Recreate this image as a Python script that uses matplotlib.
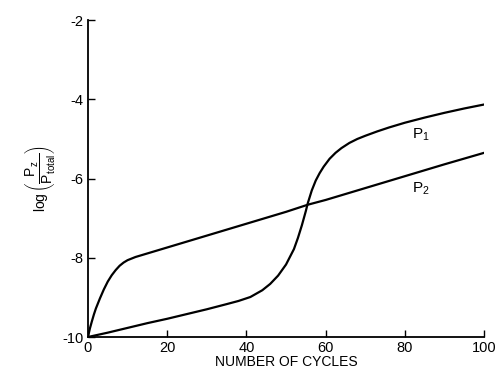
import numpy as np
import matplotlib.pyplot as plt

plt.rcParams['font.family'] = ['Liberation Sans', 'DejaVu Sans']
plt.rcParams['mathtext.fontset'] = 'custom'
plt.rcParams['mathtext.rm'] = 'Liberation Sans'
plt.rcParams['mathtext.it'] = 'Liberation Sans'
plt.rcParams['mathtext.default'] = 'regular'
plt.rcParams['axes.unicode_minus'] = False

# P1: slow rise, sharp sigmoid jump near 55 cycles
p1_x = [0, 5, 10, 15, 20, 25, 30, 35, 38, 41, 44, 46, 48, 50, 52, 53, 54, 55, 55.5,
        56.5, 57.5, 58.5, 59.5, 61, 62.5, 64, 66, 68, 70, 73, 76, 80, 85, 90, 95, 100]
p1_y = [-10, -9.89, -9.77, -9.65, -9.54, -9.42, -9.3, -9.17, -9.09, -8.99, -8.82, -8.66,
        -8.45, -8.17, -7.78, -7.5, -7.18, -6.82, -6.62,
        -6.3, -6.05, -5.86, -5.7, -5.5, -5.35, -5.23, -5.1, -5.0, -4.92, -4.81,
        -4.71, -4.59, -4.46, -4.34, -4.23, -4.13]

# P2: fast initial rise, then linear
p2_x = [0, 0.5, 1, 1.5, 2, 3, 4, 5, 6, 7, 8, 9, 10, 11, 12, 20, 30, 40, 50, 55.5, 60, 70, 80, 90, 100]
p2_y = [-10, -9.78, -9.6, -9.43, -9.28, -9.03, -8.8, -8.6, -8.44, -8.31, -8.2, -8.12,
        -8.06, -8.02, -7.98, -7.74, -7.44, -7.14, -6.84, -6.66, -6.54, -6.24,
        -5.94, -5.64, -5.35]

x_ticks = [0, 20, 40, 60, 80, 100]
y_ticks = [-10, -8, -6, -4, -2]

fig = plt.figure(figsize=(4.97, 3.73), dpi=100)
ax = fig.add_axes([0.177, 0.0965, 0.797, 0.8495])

ax.plot(p1_x, p1_y, color='black', lw=1.6, solid_capstyle='round')
ax.plot(p2_x, p2_y, color='black', lw=1.6, solid_capstyle='round')

ax.text(84, -4.9, r'$P_1$', fontsize=11, ha='center', va='center')
ax.text(84, -6.27, r'$P_2$', fontsize=11, ha='center', va='center')

ax.set_xlim(0, 100)
ax.set_ylim(-10, -2)
ax.set_xticks(x_ticks)
ax.set_yticks(y_ticks)
ax.tick_params(direction='in', length=5, width=1, labelsize=10.5, pad=3)

for side in ['top', 'right']:
    ax.spines[side].set_visible(False)
for side in ['left', 'bottom']:
    ax.spines[side].set_linewidth(1.3)

ax.set_xlabel('NUMBER OF CYCLES', fontsize=10, labelpad=0)
ax.set_ylabel(r'$\log\left(\dfrac{P_z}{P_{total}}\right)$', fontsize=10, labelpad=4)

plt.savefig('out.png', dpi=100)
